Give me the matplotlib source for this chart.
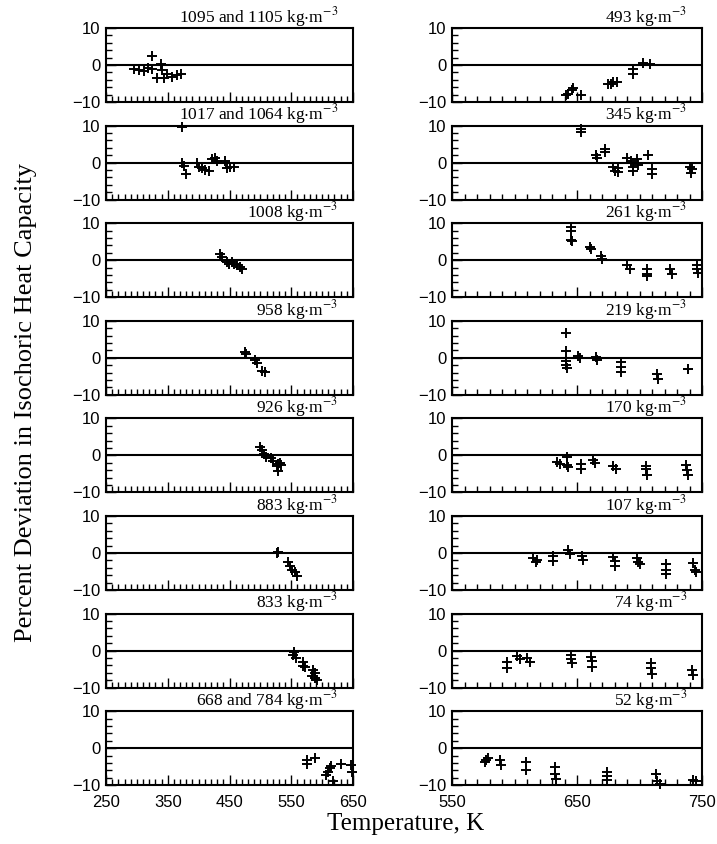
import matplotlib
matplotlib.use('Agg')
import matplotlib.pyplot as plt
from matplotlib.ticker import MultipleLocator

plt.rcParams['mathtext.fontset'] = 'stix'

# --- deviations, percent, left column (liquid side) ---
t_1095 = [296, 304, 312, 318, 324, 325, 333, 339, 341, 344, 349, 357, 365, 371]
d_1095 = [-1.1, -1.4, -1.6, -0.9, 2.5, -1.1, -3.4, 0.4, -1.4, -3.4, -2.5, -3.2, -2.7, -2.5]

t_1017 = [373, 373, 376, 379, 397, 400, 406, 411, 416, 422, 426, 430, 443, 446, 451, 457]
d_1017 = [9.6, -0.2, -0.8, -3.1, -0.2, -1.1, -1.5, -2.0, -2.4, 1.0, 1.3, 0.4, 0.3, -1.5, -1.1, -1.1]

t_1008 = [435, 438, 446, 449, 454, 457, 462, 467, 470]
d_1008 = [1.6, 1.0, -0.6, -1.1, -0.5, -1.1, -1.4, -1.8, -2.3]

t_958 = [475, 476, 492, 494, 502, 508]
d_958 = [1.5, 0.9, -0.5, -1.4, -3.6, -3.9]

t_926 = [500, 502, 506, 509, 518, 521, 527, 529, 532, 529, 534]
d_926 = [2.2, 1.5, 0.4, -0.3, -0.7, -1.6, -2.8, -2.2, -2.0, -4.1, -2.5]

t_883 = [527, 529, 545, 548, 551, 556, 560]
d_883 = [0.0, 0.2, -2.5, -3.6, -4.5, -5.2, -6.1]

t_833 = [553, 555, 557, 569, 572, 569, 585, 588, 588, 591, 583]
d_833 = [-1.2, -0.3, -2.1, -3.0, -4.5, -4.1, -5.2, -6.1, -7.4, -7.9, -7.0]

t_668 = [575, 575, 588, 607, 610, 612, 615, 618, 631, 647, 649]
d_668 = [-3.2, -4.3, -2.7, -7.2, -6.3, -5.4, -4.8, -9.0, -4.2, -4.5, -6.3]

# --- deviations, percent, right column (near-critical and vapour side) ---
t_493 = [641, 643, 646, 647, 653, 675, 677, 679, 682, 695, 695, 703, 708]
d_493 = [-8.1, -7.9, -6.8, -6.3, -8.1, -5.2, -5.0, -4.5, -4.7, -1.1, -2.3, 0.5, 0.2]

t_345 = [653, 653, 665, 666, 672, 672, 679, 680, 683, 683, 690, 693, 695, 695,
         698, 699, 707, 710, 710, 740, 741, 742]
d_345 = [9.2, 8.3, 2.0, 1.3, 3.6, 2.9, -1.1, -2.4, -1.5, -2.6, 1.3, 0.3, -1.1, -2.4,
         1.0, -0.6, 2.0, -1.7, -3.1, -1.1, -2.8, -1.7]

t_261 = [645, 645, 645, 646, 660, 661, 669, 670, 690, 692, 706, 706, 706, 724,
         726, 746, 746, 747]
d_261 = [8.9, 8.0, 5.5, 5.1, 3.7, 3.0, 1.1, 0.4, -1.2, -2.5, -2.5, -3.6, -4.4, -2.3,
         -3.8, -1.2, -2.5, -3.4]

t_219 = [641, 641, 641, 641, 642, 651, 652, 665, 666, 685, 685, 685, 714, 715, 739, 739]
d_219 = [6.8, 1.8, -0.9, -2.0, -2.8, 0.6, -0.1, 0.2, -0.7, -1.2, -2.5, -3.8, -4.4, -5.6,
         -2.9, -3.1]

t_170 = [634, 636, 642, 642, 643, 653, 653, 663, 664, 679, 681, 705, 705, 706, 737, 738, 739]
d_170 = [-1.9, -2.2, -0.3, -2.5, -3.1, -2.2, -3.8, -1.2, -2.0, -2.9, -3.8, -2.8, -3.8, -5.2,
         -2.5, -4.0, -5.4]

t_107 = [615, 617, 618, 631, 631, 643, 644, 654, 655, 679, 680, 680, 698, 699, 700,
         721, 721, 721, 743, 744, 745]
d_107 = [-1.3, -2.5, -2.0, -0.9, -2.2, 0.9, -0.4, -0.9, -2.0, -1.1, -2.2, -3.6, -1.3, -2.5,
         -3.1, -2.9, -4.5, -5.8, -2.7, -4.5, -5.2]

t_74 = [594, 594, 602, 604, 610, 612, 645, 645, 646, 661, 662, 662, 709, 709, 710, 742, 743]
d_74 = [-3.2, -4.7, -1.4, -2.3, -2.0, -3.2, -1.2, -2.3, -3.4, -1.8, -2.7, -4.3, -3.4, -4.7,
        -6.2, -5.2, -6.5]

t_52 = [576, 577, 579, 588, 589, 609, 609, 632, 632, 633, 674, 674, 674, 713, 714, 716,
        743, 745]
d_52 = [-3.8, -3.1, -2.7, -3.1, -4.5, -3.6, -5.8, -5.1, -7.1, -8.2, -6.5, -7.6, -8.7, -7.1,
        -8.9, -9.6, -8.5, -8.9]

left_titles = ['1095 and 1105', '1017 and 1064', '1008', '958', '926', '883', '833',
               '668 and 784']
left_t = [t_1095, t_1017, t_1008, t_958, t_926, t_883, t_833, t_668]
left_d = [d_1095, d_1017, d_1008, d_958, d_926, d_883, d_833, d_668]

right_titles = ['493', '345', '261', '219', '170', '107', '74', '52']
right_t = [t_493, t_345, t_261, t_219, t_170, t_107, t_74, t_52]
right_d = [d_493, d_345, d_261, d_219, d_170, d_107, d_74, d_52]

W, H = 717, 844
fig = plt.figure(figsize=(W / 100, H / 100), dpi=100)

top0 = 28
pitch = 97.6
ph = 74
col_x = [(106, 247), (452, 250)]

tick_font = {'family': 'Liberation Sans', 'size': 12}


def setup(ax, xlim, showx):
    ax.set_xlim(*xlim)
    ax.set_ylim(-10, 10)
    ax.axhline(0, color='black', lw=1.5, zorder=1)
    # labelled ticks every 100 K starting at the left edge, small ones every 10 K
    ticks = list(range(xlim[0], xlim[1] + 1, 100))
    ax.set_xticks(ticks)
    ax.xaxis.set_minor_locator(MultipleLocator(10))
    ax.set_yticks([-10, 0, 10])
    ax.yaxis.set_minor_locator(MultipleLocator(2))
    ax.tick_params(which='both', direction='in', top=False, right=False, width=1.0)
    ax.tick_params(which='major', length=7)
    ax.tick_params(which='minor', length=4)
    ax.tick_params(axis='x', pad=7)
    ax.tick_params(axis='y', pad=4)
    for s in ax.spines.values():
        s.set_linewidth(1.5)
    ax.set_yticklabels(['\u221210', '0', '10'], fontdict=tick_font)
    if showx:
        ax.set_xticklabels([str(t) for t in ticks], fontdict=tick_font)
    else:
        ax.set_xticklabels([])


for col, (titles, ts, ds, xlim) in enumerate([
        (left_titles, left_t, left_d, (250, 650)),
        (right_titles, right_t, right_d, (550, 750))]):
    x0, w = col_x[col]
    for i in range(8):
        top = top0 + i * pitch
        ax = fig.add_axes([x0 / W, 1 - (top + ph) / H, w / W, ph / H])
        setup(ax, xlim, i == 7)
        ax.plot(ts[i], ds[i], linestyle='none', marker='+', color='black',
                markersize=7, markeredgewidth=1.4, zorder=3, clip_on=False)
        ax.text(0.94, 0.99, titles[i] + r' kg$\cdot$m$^{\mathrm{-3}}$',
                transform=ax.transAxes, ha='right', va='bottom',
                family='Liberation Serif', fontsize=12.5)

fig.text(406 / W, 1 - 824 / H, 'Temperature, K', ha='center', va='center',
         family='Liberation Serif', fontsize=18)
fig.text(26 / W, 1 - 402 / H, 'Percent Deviation in Isochoric Heat Capacity',
         ha='center', va='center', rotation=90, family='Liberation Serif', fontsize=19)

fig.savefig('out.png', dpi=100)
